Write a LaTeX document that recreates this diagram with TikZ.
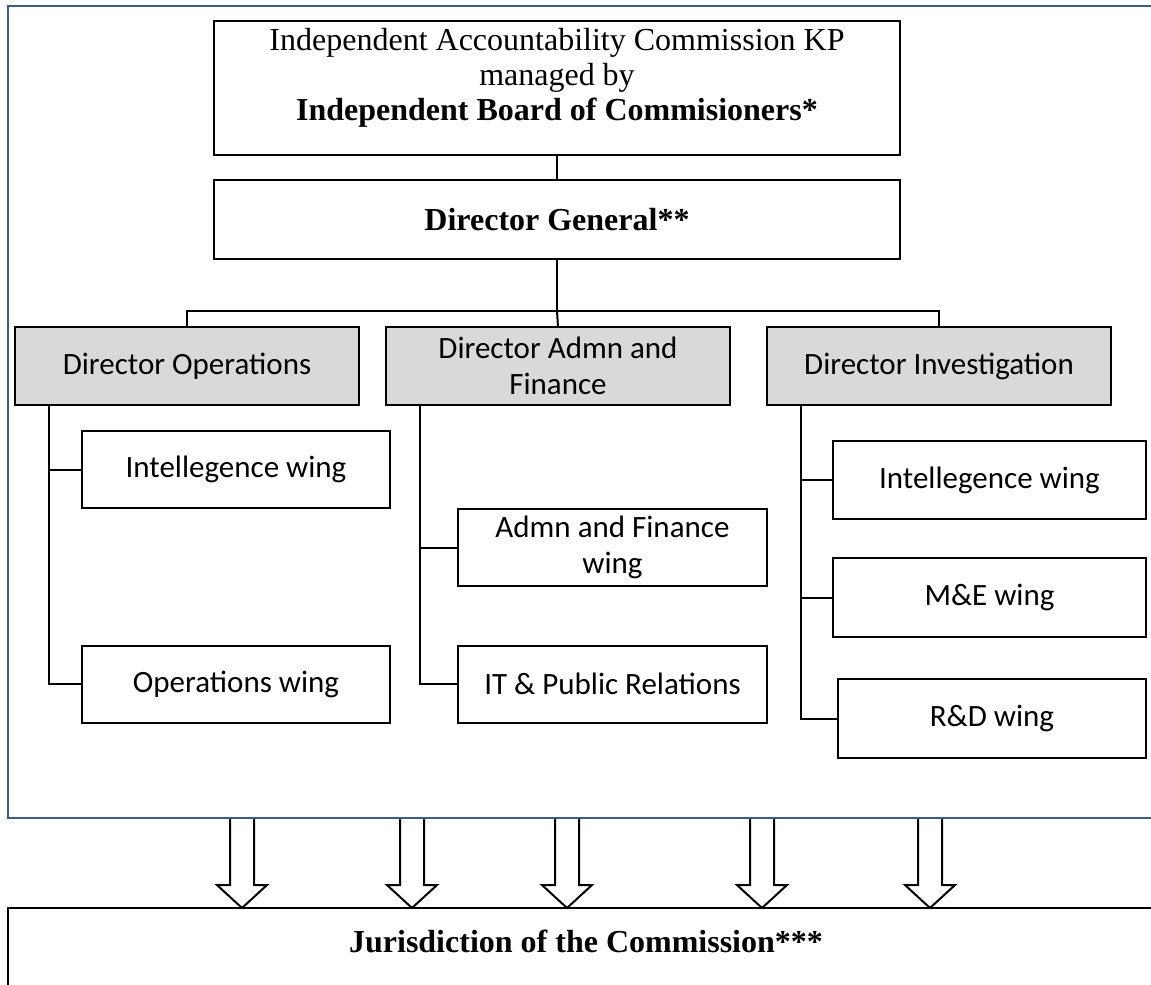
\documentclass[tikz,border=0pt]{standalone}
\usepackage{fontspec}
\setmainfont{Liberation Serif}
\newfontfamily\calib{Carlito}
\definecolor{framecol}{RGB}{56,93,138}
\definecolor{dirfill}{RGB}{217,217,217}
\begin{document}
\begin{tikzpicture}[x=1pt,y=-1pt,
  box/.style={draw=black,line width=2pt,rectangle,inner sep=0pt,outer sep=0pt,align=center},
  serifbox/.style={box,font=\fontsize{32}{35}\selectfont},
  sansbox/.style={box,font=\calib\fontsize{31}{36}\selectfont,minimum height=77pt},
  dirbox/.style={sansbox,fill=dirfill,minimum width=344pt,minimum height=78pt},
  wingbox/.style={sansbox,fill=white,minimum width=309pt},
  conn/.style={line width=2pt},
  blockarrow/.pic={\draw[line width=2pt,fill=white,line join=miter] (-12,0) -- (-12,67) -- (-25,67) -- (0,90) -- (25,67) -- (12,67) -- (12,0);}
]
\useasboundingbox (0,0) rectangle (1151,985);
\clip (0,0) rectangle (1151,985);

% top boxes
\node[serifbox,minimum width=686pt,minimum height=134pt] (top) at (557,88) {};
\node[font=\fontsize{32}{35}\selectfont,align=center,inner sep=0pt] (toptext) at (557,78)
  {Independent Accountability Commission KP\\managed by\\\textbf{Independent Board of Commisioners*}};
\node[serifbox,minimum width=686pt,minimum height=79pt] (dg) at (557,219.5) {\textbf{Director General**}};

% directors
\node[dirbox] (dops) at (187,366) {Director Operations};
\node[dirbox] (dadm) at (558,366) {Director Admn and\\Finance};
\node[dirbox] (dinv) at (939,366) {Director Investigation};

% wings
\node[wingbox,minimum width=308pt] (opsint) at (236,469.5) {Intellegence wing};
\node[wingbox,minimum width=308pt] (opsops) at (236,684) {Operations wing};
\node[wingbox] (admfin) at (612.5,547.5) {Admn and Finance\\wing};
\node[wingbox] (admit) at (612.5,684) {IT \& Public Relations};
\node[wingbox,minimum width=313pt,minimum height=78pt] (invint) at (989.5,480) {Intellegence wing};
\node[wingbox,minimum width=313pt,minimum height=79pt] (invme) at (989.5,597.5) {M\&E wing};
\node[wingbox,minimum width=308pt,minimum height=79pt] (invrd) at (992,718.5) {R\&D wing};

% connectors
\coordinate (bus) at (557,311);
\draw[conn] (top.south) -- (dg.north);
\draw[conn] (dg.south) -- (bus);
\draw[conn] (dops.north) -- (dops.north |- bus) -- (dinv.north |- bus) -- (dinv.north);
\draw[conn] (bus) -- (dadm.north);

\coordinate (opsx) at (49,405);
\coordinate (admx) at (420,405);
\coordinate (invx) at (801,405);
\draw[conn] (opsx) |- (opsops.west);
\draw[conn] (opsx |- opsint.west) -- (opsint.west);
\draw[conn] (admx) |- (admit.west);
\draw[conn] (admx |- admfin.west) -- (admfin.west);
\draw[conn] (invx) |- (invrd.west);
\draw[conn] (invx |- invint.west) -- (invint.west);
\draw[conn] (invx |- invme.west) -- (invme.west);

% bottom box
\node[box,minimum width=1200pt,minimum height=120pt] (juris) at (608,968) {};
\node[font=\fontsize{32}{35}\selectfont\bfseries,inner sep=0pt] (jtext) at (586,941) {Jurisdiction of the Commission***};

% block arrows
\coordinate (a1) at (242,818);
\coordinate (a2) at (412,818);
\coordinate (a3) at (567,818);
\coordinate (a4) at (762,818);
\coordinate (a5) at (930,818);
\foreach \a in {a1,a2,a3,a4,a5} {\pic at (\a) {blockarrow};}

% outer frame
\node[draw=framecol,line width=2pt,rectangle,inner sep=0pt,minimum width=1200pt,minimum height=812pt] (frame) at (608,412) {};
\end{tikzpicture}
\end{document}
